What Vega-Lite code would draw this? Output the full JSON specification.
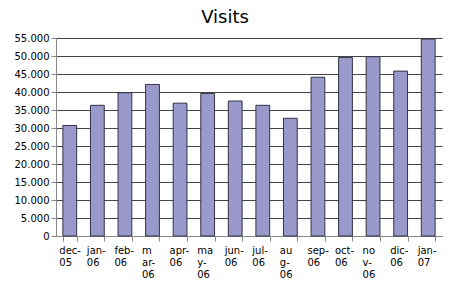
{
  "$schema": "https://vega.github.io/schema/vega-lite/v6.json",
  "width": 386,
  "height": 198,
  "autosize": {"type": "none"},
  "padding": {"left": 56, "top": 38, "right": 8, "bottom": 45},
  "background": "white",
  "title": {
    "text": "Visits",
    "font": "DejaVu Sans",
    "fontSize": 18,
    "fontWeight": "normal",
    "color": "#000000",
    "anchor": "middle",
    "frame": "group",
    "dx": -24,
    "offset": 6
  },
  "data": {
    "values": [
      {"month": "dec-05", "visits": 30700},
      {"month": "jan-06", "visits": 36300},
      {"month": "feb-06", "visits": 39800},
      {"month": "mar-06", "visits": 42100},
      {"month": "apr-06", "visits": 36900},
      {"month": "may-06", "visits": 39600},
      {"month": "jun-06", "visits": 37500},
      {"month": "jul-06", "visits": 36300},
      {"month": "aug-06", "visits": 32700},
      {"month": "sep-06", "visits": 44100},
      {"month": "oct-06", "visits": 49600},
      {"month": "nov-06", "visits": 49800},
      {"month": "dic-06", "visits": 45800},
      {"month": "jan-07", "visits": 54700}
    ]
  },
  "mark": {"type": "bar", "fill": "#9999cc", "stroke": "#333344", "strokeWidth": 1},
  "encoding": {
    "x": {
      "field": "month",
      "type": "nominal",
      "sort": null,
      "scale": {"paddingInner": 0.5, "paddingOuter": 0.25},
      "axis": {
        "title": null,
        "labelAngle": 0,
        "labelFont": "DejaVu Sans",
        "labelFontSize": 10,
        "labelColor": "#000000",
        "labelAlign": "left",
        "labelBaseline": "top",
        "labelOffset": -11,
        "labelPadding": 4,
        "labelLineHeight": 12,
        "labelOverlap": false,
        "tickBand": "extent",
        "tickSize": 5,
        "tickColor": "#888888",
        "domainColor": "#888888",
        "labelExpr": "!isString(datum.value) ? '' : datum.value == 'mar-06' ? ['m', 'ar-', '06'] : datum.value == 'may-06' ? ['ma', 'y-', '06'] : datum.value == 'aug-06' ? ['au', 'g-', '06'] : datum.value == 'nov-06' ? ['no', 'v-', '06'] : [substring(datum.value, 0, 4), substring(datum.value, 4, 6)]"
      }
    },
    "y": {
      "field": "visits",
      "type": "quantitative",
      "scale": {"domain": [0, 55000], "nice": false},
      "axis": {
        "title": null,
        "values": [0, 5000, 10000, 15000, 20000, 25000, 30000, 35000, 40000, 45000, 50000, 55000],
        "labelExpr": "replace(format(datum.value, ','), ',', '.')",
        "labelFont": "DejaVu Sans",
        "labelFontSize": 10,
        "labelColor": "#000000",
        "labelPadding": 2,
        "tickSize": 5,
        "tickColor": "#888888",
        "domainColor": "#888888",
        "grid": true,
        "gridColor": "#444444",
        "gridWidth": 1
      }
    }
  },
  "config": {"view": {"stroke": null}}
}
